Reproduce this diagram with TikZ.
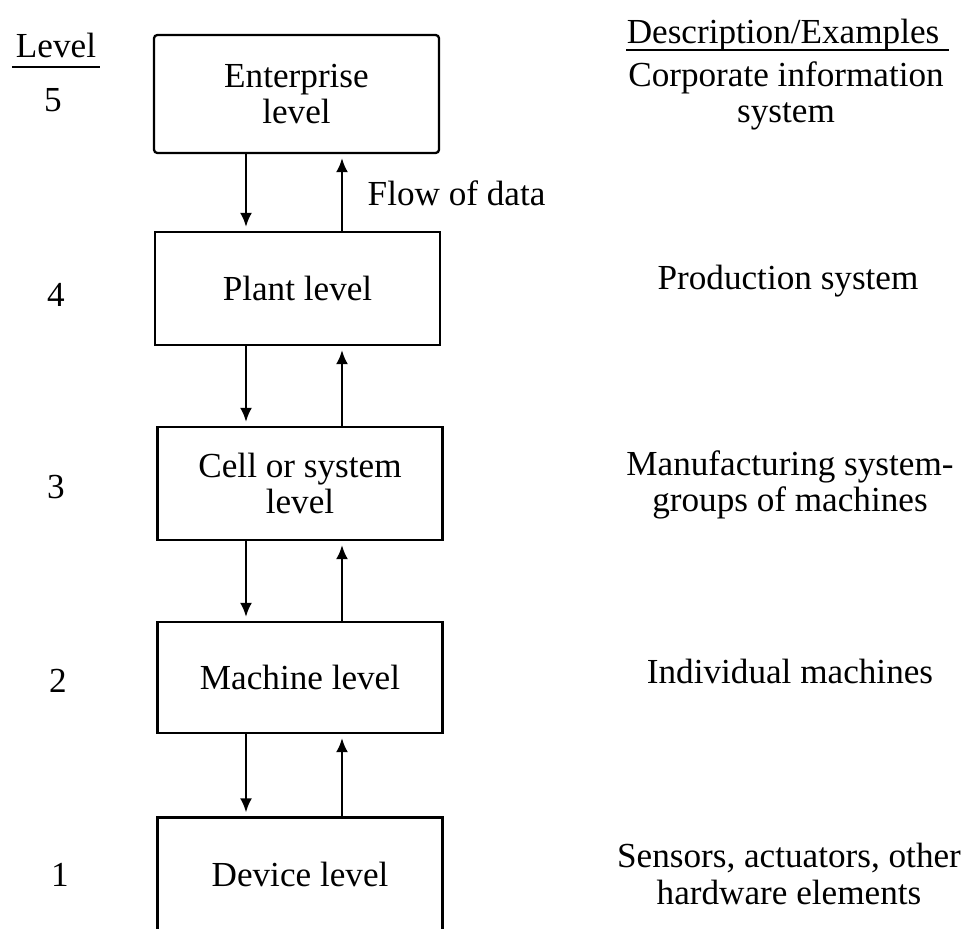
\documentclass[tikz,border=0pt]{standalone}
\usepackage{fontspec}
\setmainfont{Liberation Serif}
\usetikzlibrary{arrows.meta}

\tikzset{
  niveau/.style={draw, line width=0.65pt, minimum width=2.85cm, minimum height=1.13cm, align=center, inner sep=0pt},
  flux/.style={line width=0.7pt, -{Latex[length=4pt,width=3.4pt]}, shorten >=1.1pt},
  souligne/.style={line width=0.65pt},
  desc/.style={align=center},
}

\begin{document}
\begin{tikzpicture}[x=0.01cm, y=-0.01cm, font=\fontsize{10}{10.4}\selectfont]
    \useasboundingbox (0,0) rectangle (971,928);
    \clip (0,0) rectangle (971,928);

    % En-tetes des colonnes
    \node[anchor=base, inner xsep=0pt] (titreNiv) at (56,58) {Level};
    \node[anchor=base, inner xsep=0pt] (titreDesc) at (783,44) {Description/Examples};
    \draw[souligne] ([xshift=-1pt, yshift=-2.6pt]titreNiv.base west) -- ([xshift=1pt, yshift=-2.6pt]titreNiv.base east);
    \draw[souligne] ([yshift=-1.8pt]titreDesc.base west) -- ([xshift=2.5pt, yshift=-1.8pt]titreDesc.base east);

    % Les cinq niveaux
    \node[niveau, rounded corners=1pt, minimum height=1.18cm] (ent) at (296.5,94) {Enterprise\\level};
    \node[niveau] (plant) at (297.5,288.5) {Plant level};
    \node[niveau] (cell) at (300,483.5) {Cell or system\\level};
    \node[niveau, minimum height=1.11cm] (mach) at (300,677.5) {Machine level};
    \node[niveau] (dev) at (300,874) {Device level};

    % Numeros des niveaux
    \node (n5) at (53,100) {5};
    \node (n4) at (56,295) {4};
    \node (n3) at (56,487) {3};
    \node (n2) at (58,681) {2};
    \node (n1) at (60,875) {1};

    % Descriptions / exemples
    \node[desc] (d5) at (786,96) {Corporate information\\system};
    \node[desc] (d4) at (788,281) {Production system};
    \node[desc] (d3) at (790,485) {Manufacturing system-\\groups of machines};
    \node[desc] (d2) at (790,671) {Individual machines};
    \node[desc] (d1) at (789,874) {Sensors, actuators, other\\hardware elements};

    % Fleches : descendante a gauche, montante a droite
    \coordinate (dn) at (246,0);
    \coordinate (up) at (342,0);
    \draw[flux] (ent.south -| dn) -- (plant.north -| dn);
    \draw[flux] (plant.north -| up) -- (ent.south -| up);
    \draw[flux] (plant.south -| dn) -- (cell.north -| dn);
    \draw[flux] (cell.north -| up) -- (plant.south -| up);
    \draw[flux] (cell.south -| dn) -- (mach.north -| dn);
    \draw[flux] (mach.north -| up) -- (cell.south -| up);
    \draw[flux] (mach.south -| dn) -- (dev.north -| dn);
    \draw[flux] (dev.north -| up) -- (mach.south -| up);

    % Legende du flux
    \node[anchor=west, inner xsep=0pt] (flow) at (367,193) {Flow of data};
\end{tikzpicture}
\end{document}
